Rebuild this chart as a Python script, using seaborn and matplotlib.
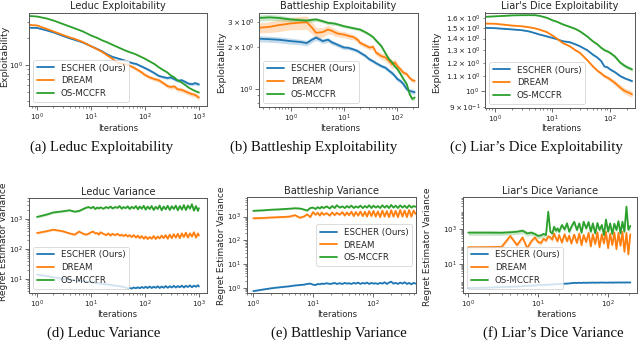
import numpy as np
import matplotlib
matplotlib.use("Agg")
import matplotlib.pyplot as plt
from matplotlib.ticker import NullFormatter, FixedLocator, FixedFormatter
import seaborn as sns

METHODS = ["ESCHER (Ours)", "DREAM", "OS-MCCFR"]
COLORS = ["#1f77b4", "#ff7f0e", "#2ca02c"]

# ---------------- (a) Leduc Exploitability ----------------
A_x = [0.71, 1, 1.5, 2, 3, 4, 5, 7, 10, 13, 16, 20, 25, 30, 40, 50, 60, 70, 80, 100,
       120, 150, 180, 220, 260, 300, 350, 400, 480, 560, 650, 750, 850, 1000]
A_escher = [2.62, 2.61, 2.45, 2.33, 2.13, 2.0, 1.92, 1.80, 1.63, 1.52, 1.43, 1.32, 1.24, 1.20,
            1.14, 1.09, 1.05, 1.03, 0.99, 0.93, 0.88, 0.815, 0.76, 0.735, 0.72, 0.73, 0.70,
            0.67, 0.68, 0.65, 0.62, 0.615, 0.63, 0.61]
A_dream = [2.82, 2.78, 2.55, 2.39, 2.18, 2.05, 1.97, 1.82, 1.63, 1.51, 1.41, 1.29, 1.18, 1.08,
           1.04, 1.0, 0.95, 0.90, 0.86, 0.78, 0.735, 0.70, 0.68, 0.63, 0.585, 0.57, 0.58,
           0.54, 0.53, 0.51, 0.49, 0.475, 0.465, 0.435]
A_os = [3.55, 3.5, 3.33, 3.16, 2.89, 2.71, 2.58, 2.39, 2.15, 2.02, 1.90, 1.80, 1.69, 1.61,
        1.49, 1.41, 1.36, 1.31, 1.26, 1.18, 1.11, 1.03, 0.95, 0.88, 0.83, 0.77, 0.73, 0.68,
        0.64, 0.60, 0.56, 0.535, 0.515, 0.495]
A_escher_band = [0.01, 0.01, 0.01, 0.012, 0.012, 0.012, 0.014, 0.015, 0.016, 0.018, 0.02, 0.02,
                 0.022, 0.024, 0.025, 0.026, 0.028, 0.03, 0.03, 0.032, 0.034, 0.035, 0.036,
                 0.038, 0.04, 0.04, 0.042, 0.042, 0.044, 0.045, 0.045, 0.046, 0.046, 0.046]
A_dream_band = [0.008, 0.008, 0.01, 0.01, 0.012, 0.012, 0.014, 0.015, 0.018, 0.02, 0.024, 0.028,
                0.03, 0.035, 0.04, 0.04, 0.042, 0.044, 0.045, 0.046, 0.048, 0.05, 0.05, 0.052,
                0.055, 0.055, 0.056, 0.058, 0.06, 0.06, 0.06, 0.062, 0.062, 0.062]
A_os_band = [0.008, 0.008, 0.008, 0.008, 0.008, 0.008, 0.01, 0.01, 0.01, 0.01, 0.012, 0.012,
             0.012, 0.012, 0.014, 0.014, 0.014, 0.015, 0.015, 0.015, 0.016, 0.016, 0.016,
             0.017, 0.017, 0.018, 0.018, 0.018, 0.019, 0.02, 0.02, 0.02, 0.02, 0.02]
A_yticks = [1.0]
A_yticklabels = [r"$\mathdefault{10^{0}}$"]

# ---------------- (b) Battleship Exploitability ----------------
B_x = [0.255, 0.4, 0.6, 1, 1.5, 2, 2.5, 3, 4, 5, 6, 7, 8, 10, 12, 15, 18, 20, 25, 30,
       35, 40, 50, 60, 70, 80, 90, 100, 115, 130, 150, 170, 190, 211]
B_escher = [2.29, 2.27, 2.25, 2.2, 2.17, 2.13, 2.25, 2.33, 2.2, 2.25, 2.15, 2.1, 2.05, 1.98,
            1.97, 1.92, 1.87, 1.82, 1.73, 1.63, 1.58, 1.53, 1.46, 1.42, 1.35, 1.3, 1.24,
            1.18, 1.14, 1.085, 1.0, 0.97, 0.96, 0.95]
B_dream = [2.74, 2.78, 2.86, 2.94, 2.98, 3.0, 2.75, 2.52, 2.55, 2.66, 2.6, 2.52, 2.48, 2.45,
           2.4, 2.35, 2.25, 2.14, 2.05, 1.98, 2.0, 1.82, 1.72, 1.68, 1.59, 1.5, 1.55, 1.46,
           1.38, 1.31, 1.28, 1.2, 1.16, 1.145]
B_os = [3.22, 3.25, 3.22, 3.14, 3.1, 3.08, 3.12, 3.14, 3.05, 2.97, 2.95, 2.92, 2.88, 2.81,
        2.77, 2.72, 2.68, 2.66, 2.55, 2.45, 2.35, 2.22, 2.03, 1.8, 1.63, 1.55, 1.45, 1.39,
        1.28, 1.18, 1.085, 0.92, 0.85, 0.87]
B_escher_band = [0.05, 0.05, 0.05, 0.05, 0.045, 0.045, 0.045, 0.045, 0.04, 0.04, 0.04, 0.035,
                 0.035, 0.035, 0.03, 0.03, 0.03, 0.03, 0.03, 0.03, 0.03, 0.03, 0.03, 0.03,
                 0.035, 0.035, 0.035, 0.035, 0.035, 0.04, 0.04, 0.04, 0.04, 0.04]
B_dream_band = [0.08, 0.09, 0.1, 0.1, 0.11, 0.11, 0.1, 0.09, 0.08, 0.07, 0.06, 0.06, 0.05, 0.05,
                0.05, 0.045, 0.045, 0.04, 0.04, 0.04, 0.04, 0.045, 0.05, 0.06, 0.07, 0.07,
                0.06, 0.05, 0.04, 0.04, 0.035, 0.035, 0.035, 0.035]
B_os_band = [0.05, 0.05, 0.045, 0.04, 0.04, 0.035, 0.035, 0.03, 0.03, 0.03, 0.03, 0.025, 0.025,
             0.025, 0.025, 0.025, 0.025, 0.025, 0.025, 0.025, 0.025, 0.03, 0.03, 0.03, 0.03,
             0.03, 0.03, 0.03, 0.035, 0.035, 0.035, 0.035, 0.035, 0.035]

# ---------------- (c) Liar's Dice Exploitability ----------------
C_x = [0.68, 1, 1.5, 2, 3, 4, 5, 6, 8, 10, 12, 15, 20, 25, 30, 40, 50, 60, 70, 80,
       90, 100, 120, 150, 180, 210, 240]
C_escher = [1.5, 1.497, 1.49, 1.485, 1.477, 1.465, 1.45, 1.437, 1.42, 1.406, 1.395, 1.377,
            1.368, 1.35, 1.333, 1.3, 1.264, 1.24, 1.212, 1.17, 1.165, 1.149, 1.13, 1.101,
            1.085, 1.075, 1.066]
C_dream = [1.542, 1.54, 1.53, 1.522, 1.515, 1.505, 1.495, 1.483, 1.46, 1.428, 1.4, 1.362,
           1.333, 1.3, 1.278, 1.22, 1.173, 1.14, 1.12, 1.1, 1.09, 1.078, 1.055, 1.022, 1.0,
           0.99, 0.979]
C_os = [1.61, 1.615, 1.62, 1.625, 1.627, 1.627, 1.627, 1.62, 1.6, 1.575, 1.56, 1.535, 1.51,
        1.49, 1.467, 1.42, 1.377, 1.35, 1.32, 1.3, 1.29, 1.278, 1.25, 1.2, 1.175, 1.16, 1.149]
C_escher_band = [0.003, 0.003, 0.003, 0.003, 0.003, 0.003, 0.003, 0.003, 0.004, 0.004, 0.004,
                 0.004, 0.005, 0.005, 0.005, 0.006, 0.006, 0.006, 0.007, 0.007, 0.007, 0.008,
                 0.008, 0.008, 0.008, 0.008, 0.008]
C_dream_band = [0.003, 0.003, 0.003, 0.003, 0.003, 0.003, 0.003, 0.004, 0.004, 0.005, 0.005,
                0.005, 0.006, 0.006, 0.007, 0.008, 0.009, 0.01, 0.011, 0.012, 0.013, 0.014,
                0.016, 0.018, 0.019, 0.02, 0.02]
C_os_band = [0.003, 0.003, 0.003, 0.003, 0.003, 0.003, 0.004, 0.004, 0.004, 0.005, 0.005, 0.005,
             0.006, 0.006, 0.006, 0.007, 0.007, 0.008, 0.008, 0.009, 0.009, 0.01, 0.01, 0.011,
             0.012, 0.012, 0.012]

# ---------------- (d) Leduc Variance ----------------
D_x = [1, 1.5, 2, 3, 4, 5, 6, 7, 8, 9, 10, 11, 12, 13, 14, 15, 17, 19, 21, 23, 25, 28, 31, 34,
       37, 40, 44, 48, 52, 57, 62, 68, 74, 80, 87, 95, 103, 112, 122, 133, 145, 158, 172, 187,
       204, 222, 242, 264, 288, 314, 342, 373, 406, 443, 483, 526, 573, 625, 681, 742, 809,
       882, 961, 1000]
D_escher = [14, 12.5, 11.5, 10, 9.5, 9, 8.8, 8.5, 8.2, 8, 7.8, 7.6, 7.4, 7.3, 7.1, 7, 6.8, 6.6,
            6.5, 6.3, 6.2, 6.0, 5.9, 5.7, 5.6, 5.4, 5.2, 4.8, 5.0, 4.8, 5.2, 4.9, 5.3, 4.9, 5.4,
            5.0, 5.5, 5.0, 5.6, 5.0, 5.5, 5.1, 5.7, 5.0, 5.6, 5.1, 5.8, 5.1, 5.7, 5.2, 5.9, 5.2,
            5.8, 5.3, 6.0, 5.2, 5.9, 5.4, 6.1, 5.3, 6.0, 5.5, 6.2, 5.6]
D_dream = [340, 390, 440, 390, 330, 300, 380, 330, 300, 320, 360, 380, 330, 340, 300, 360, 320,
           290, 330, 280, 320, 290, 320, 280, 300, 270, 300, 260, 290, 250, 290, 240, 280, 230,
           270, 220, 260, 215, 250, 220, 270, 215, 260, 225, 280, 230, 290, 220, 300, 230, 310,
           240, 320, 230, 330, 250, 350, 240, 330, 260, 360, 240, 330, 280]
D_os = [1170, 1400, 1650, 1800, 1950, 1750, 1850, 2100, 2350, 2500, 2300, 2550, 2150, 2400,
        2250, 2450, 2200, 2500, 2300, 2600, 2250, 2500, 2350, 2700, 2200, 2500, 2300, 2650,
        2150, 2550, 2250, 2700, 2100, 2600, 2200, 2750, 2050, 2600, 2150, 2700, 2000, 2550,
        2150, 2800, 1950, 2600, 2100, 2750, 2000, 2650, 2150, 2800, 1950, 2700, 2050, 2900,
        2000, 2800, 2200, 3100, 1900, 2700, 1850, 2300]
D_band = [0.05, 0.08, 0.08]

# ---------------- (e) Battleship Variance ----------------
E_x = [1, 1.5, 2, 3, 4, 5, 6, 7, 8, 9, 10, 11, 12, 13, 14, 15, 17, 19, 21, 23, 25, 28, 31, 34,
       37, 40, 44, 48, 52, 57, 62, 68, 74, 80, 87, 95, 103, 112, 122, 133, 145, 158, 172, 187,
       204, 222, 242, 264, 288, 314, 342, 373, 406, 443, 483, 520]
E_escher = [0.72, 0.85, 0.95, 1.07, 1.15, 1.25, 1.3, 1.35, 1.45, 1.5, 1.35, 1.3, 1.45, 1.4, 1.5,
            1.45, 1.55, 1.45, 1.5, 1.6, 1.45, 1.55, 1.45, 1.6, 1.5, 1.55, 1.45, 1.6, 1.5, 1.65,
            1.45, 1.6, 1.5, 1.65, 1.45, 1.6, 1.5, 1.55, 1.45, 1.6, 1.5, 1.7, 1.45, 1.65, 1.8,
            1.5, 1.6, 1.45, 1.65, 1.5, 1.7, 1.45, 1.6, 1.4, 1.6, 1.5]
E_dream = [850, 880, 920, 960, 1000, 1150, 900, 1000, 1250, 950, 1550, 1200, 1450, 1100, 1500,
           1200, 1400, 1100, 1500, 1150, 1450, 1200, 1550, 1100, 1500, 1150, 1600, 1050, 1550,
           1100, 1650, 1050, 1600, 1000, 1700, 1050, 1750, 1000, 1650, 950, 1800, 1000, 1700,
           950, 1850, 1000, 1750, 950, 1900, 1000, 1800, 950, 1900, 1000, 1800, 1300]
E_os = [1750, 1850, 1950, 2050, 2150, 2250, 2200, 2000, 1800, 2300, 2400, 2100, 2500, 2200, 2600,
        2300, 2700, 2200, 2800, 2300, 3000, 2400, 2700, 2300, 2800, 2400, 2900, 2300, 2700, 2400,
        2900, 2300, 2800, 2400, 3000, 2300, 2900, 2400, 2800, 2300, 3000, 2400, 2900, 2300, 3100,
        2400, 2900, 2300, 3000, 2400, 2900, 2300, 3000, 2400, 2800, 2600]
E_band = [0.05, 0.1, 0.08]

# ---------------- (f) Liar's Dice Variance ----------------
F_x = [1, 2, 3, 4, 5, 6, 7, 8, 9, 10, 11, 12, 13, 14, 15, 16, 17, 18, 19, 20, 22, 24, 26, 28,
       30, 33, 36, 39, 42, 45, 49, 53, 57, 61, 66, 71, 76, 82, 88, 94, 101, 108, 116, 124, 133,
       142, 152, 162, 173, 185, 197, 210]
F_escher = [0.42, 0.45, 0.48, 0.5, 0.52, 0.54, 0.56, 0.58, 0.6, 0.62, 0.63, 0.64, 0.65, 0.66,
            0.67, 0.68, 0.69, 0.7, 0.71, 0.72, 0.73, 0.75, 0.76, 0.78, 0.8, 0.84, 0.82, 0.85,
            0.83, 0.86, 0.84, 0.86, 0.85, 0.87, 0.85, 0.87, 0.86, 0.88, 0.86, 0.87, 0.86, 0.88,
            0.86, 0.88, 0.87, 0.89, 0.87, 0.88, 0.87, 0.89, 0.88, 0.88]
F_dream = [90, 92, 95, 400, 120, 330, 80, 200, 330, 180, 160, 280, 220, 380, 330, 250, 550, 300,
           200, 450, 170, 500, 200, 420, 150, 480, 160, 550, 120, 450, 180, 600, 100, 500, 140,
           650, 90, 500, 150, 700, 80, 550, 120, 650, 70, 600, 110, 700, 50, 600, 35, 500]
F_os = [620, 620, 610, 650, 700, 800, 560, 620, 520, 400, 430, 520, 450, 9800, 700, 560, 1350,
        800, 1100, 700, 1700, 950, 2100, 700, 1350, 2600, 880, 2100, 620, 2600, 1100, 2500, 700,
        2100, 560, 2200, 880, 1700, 450, 3500, 700, 2100, 520, 2000, 880, 2800, 560, 2600, 700,
        19000, 900, 1500]
F_band = [0.05, 0.25, 0.3]
F_yticks = [1e1, 1e3]
F_yticklabels = [r"$\mathdefault{10^{1}}$", r"$\mathdefault{10^{3}}$"]

# ------------------------------------------------------------
sns.set_theme(style="ticks", palette="tab10")
plt.rcParams["font.family"] = ["DejaVu Sans"]
plt.rcParams["mathtext.fontset"] = "dejavusans"

W, H = 640, 344
fig = plt.figure(figsize=(W / 100, H / 100), dpi=100)
fig.patch.set_facecolor("white")


def add_ax(l, t, r, b):
    return fig.add_axes([l / W, 1 - b / H, (r - l) / W, (b - t) / H])


def draw(ax, x, ys, bands):
    ax.set_xscale("log")
    ax.set_yscale("log")
    x = np.asarray(x, float)
    for name, y, band, c in zip(METHODS, ys, bands, COLORS):
        y = np.asarray(y, float)
        band = np.asarray(band, float)
        ax.fill_between(x, y * (1 - band), y * (1 + band), color=c, alpha=0.25, linewidth=0)
        sns.lineplot(x=x, y=y, ax=ax, color=c, label=name, linewidth=1.3)


def style(ax, xlim, ylim, title, ylabel, xl, yl, tpad, loc, ylsize):
    ax.set_xlim(*xlim)
    ax.set_ylim(*ylim)
    ax.set_title(title, fontsize=7.0, pad=tpad)
    ax.set_xlabel("Iterations", fontsize=6.0)
    ax.set_ylabel(ylabel, fontsize=ylsize)
    ax.xaxis.set_label_coords(xl[0] / W, 1 - xl[1] / H, transform=fig.transFigure)
    ax.yaxis.set_label_coords(yl[0] / W, 1 - yl[1] / H, transform=fig.transFigure)
    for s in ax.spines.values():
        s.set_color("#555555")
        s.set_linewidth(0.7)
    ax.tick_params(which="both", labelsize=5.2, colors="#555555", labelcolor="#222222")
    ax.tick_params(which="major", length=2.8, width=0.6, pad=1.5)
    ax.tick_params(which="minor", length=1.6, width=0.5, pad=1.5)
    leg = ax.legend(loc=loc, fontsize=6.2, frameon=True, fancybox=True, framealpha=0.8,
                    edgecolor="0.8", borderpad=0.4, labelspacing=0.45, handlelength=2.0,
                    handletextpad=0.8, borderaxespad=0.5)
    leg.get_frame().set_linewidth(0.6)


# Top row
axA = add_ax(29, 12.5, 207, 106)
draw(axA, A_x, [A_escher, A_dream, A_os], [A_escher_band, A_dream_band, A_os_band])
style(axA, (0.71, 1413), (0.35, 3.88), "Leduc Exploitability", "Exploitability",
      (118, 124), (9.5, 56), 2.8, "lower left", 6.8)
axA.yaxis.set_major_locator(FixedLocator(A_yticks))
axA.yaxis.set_major_formatter(FixedFormatter(A_yticklabels))
axA.yaxis.set_minor_locator(FixedLocator([0.4, 0.5, 0.6, 0.7, 0.8, 0.9, 2.0, 3.0]))
axA.yaxis.set_minor_formatter(NullFormatter())

axB = add_ax(259, 12.5, 418, 107)
draw(axB, B_x, [B_escher, B_dream, B_os], [B_escher_band, B_dream_band, B_os_band])
style(axB, (0.255, 244), (0.745, 3.52), "Battleship Exploitability", "Exploitability",
      (340, 124), (226, 62), 2.8, "lower left", 6.8)

axC = add_ax(485, 12.5, 635, 108)
draw(axC, C_x, [C_escher, C_dream, C_os], [C_escher_band, C_dream_band, C_os_band])
style(axC, (0.68, 270), (0.897, 1.655), "Liar's Dice Exploitability", "Exploitability",
      (561, 124), (441.5, 62), 2.8, "lower left", 6.8)

# Bottom row
axD = add_ax(29, 198, 207, 293)
draw(axD, D_x, [D_escher, D_dream, D_os], D_band)
style(axD, (0.71, 1413), (3.4, 5000), "Leduc Variance", "Regret Estimator Variance",
      (117, 310), (8.5, 242), 2.2, "lower left", 6.5)

axE = add_ax(247, 197, 416, 293)
draw(axE, E_x, [E_escher, E_dream, E_os], E_band)
style(axE, (0.785, 530), (0.6, 6700), "Battleship Variance", "Regret Estimator Variance",
      (337, 310), (226, 246), 2.2, "center right", 6.5)

axF = add_ax(463, 197, 637, 293)
draw(axF, F_x, [F_escher, F_dream, F_os], F_band)
style(axF, (0.84, 262), (0.22, 67600), "Liar's Dice Variance", "Regret Estimator Variance",
      (556, 310), (432.5, 247), 2.2, "lower left", 6.5)
axF.yaxis.set_major_locator(FixedLocator(F_yticks))
axF.yaxis.set_major_formatter(FixedFormatter(F_yticklabels))
axF.yaxis.set_minor_formatter(NullFormatter())

# Sub-figure captions
captions = [("(a) Leduc Exploitability", 102, 147.5),
            ("(b) Battleship Exploitability", 314, 147.5),
            ("(c) Liar\u2019s Dice Exploitability", 536, 147.5),
            ("(d) Leduc Variance", 104, 333),
            ("(e) Battleship Variance", 339, 333),
            ("(f) Liar\u2019s Dice Variance", 553, 333)]
for txt, cx, cy in captions:
    fig.text(cx / W, 1 - cy / H, txt, ha="center", va="center", fontsize=10.7,
             family=["Liberation Serif"], color="#111111")

fig.savefig("out.png", dpi=100, facecolor="white")
